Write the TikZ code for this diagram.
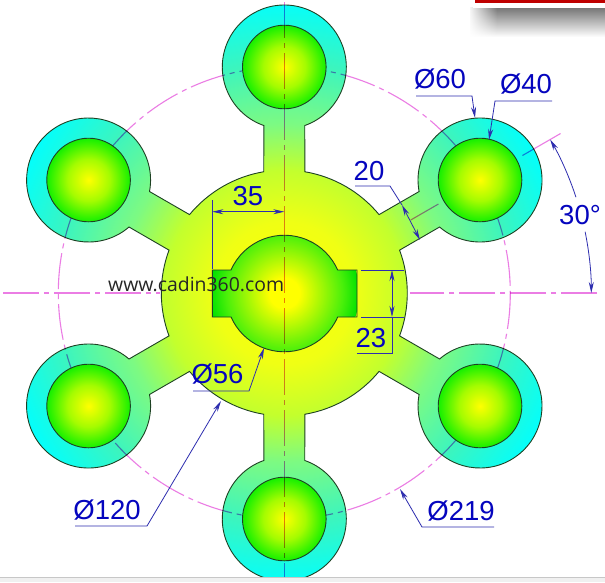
\documentclass[tikz,border=0pt]{standalone}
\usepackage{fontspec}
\setmainfont{Liberation Sans}
\newfontfamily\urlfont{Open Sans}
\usetikzlibrary{arrows.meta,fadings,calc}
\definecolor{yel}{RGB}{255,255,0}
\definecolor{bodyA}{RGB}{240,255,20}
\definecolor{bodyB}{RGB}{195,255,45}
\definecolor{bodyC}{RGB}{125,250,130}
\definecolor{bodyD}{RGB}{60,245,190}
\definecolor{bodyE}{RGB}{0,255,255}
\definecolor{diskA}{RGB}{165,252,0}
\definecolor{diskB}{RGB}{20,240,0}
\definecolor{keyA}{RGB}{75,240,10}
\definecolor{keyB}{RGB}{0,225,0}
\definecolor{outl}{RGB}{30,65,35}
\definecolor{dimcol}{RGB}{45,45,175}
\definecolor{txtcol}{RGB}{5,5,190}
\definecolor{cline}{RGB}{235,125,228}
% a path's bounding box maps to 25bp of the shading's radius
\pgfdeclareradialshading{bodyshade}{\pgfpoint{0bp}{0bp}}{color(0bp)=(yel);color(6bp)=(bodyA);color(10.35bp)=(bodyB);color(14.25bp)=(bodyC);color(19.5bp)=(bodyD);color(25bp)=(bodyE);color(50bp)=(bodyE)}
\pgfdeclareradialshading{diskshade}{\pgfpoint{0bp}{0bp}}{color(0bp)=(yel);color(12.5bp)=(diskA);color(25bp)=(diskB);color(50bp)=(diskB)}
\pgfdeclareradialshading{keyshade}{\pgfpoint{0bp}{0bp}}{color(0bp)=(yel);color(5bp)=(yel);color(19.35bp)=(keyA);color(25bp)=(keyB);color(50bp)=(keyB)}
\tikzset{
  outline/.style={draw=outl,line width=0.9pt},
  centerline/.style={cline,line width=1.1pt,dash pattern=on 36pt off 5pt on 5pt off 5pt},
  axisline/.style={cline,line width=1.5pt,dash pattern=on 36pt off 5pt on 5pt off 5pt},
  dimline/.style={dimcol,line width=0.8pt},
  dimtip/.style={-{Stealth[length=11pt,width=5pt]},dimcol,line width=0.8pt},
  dimtips/.style={{Stealth[length=11pt,width=5pt]}-{Stealth[length=11pt,width=5pt]},dimcol,line width=0.8pt},
  dimtext/.style={text=txtcol,font=\fontsize{27.5}{27.5}\selectfont,inner sep=0pt},
}
\begin{document}
\begin{tikzpicture}[x=1pt,y=1pt,yscale=-1]
\useasboundingbox (0,0) rectangle (605,582);
\fill[white] (0,0) rectangle (605,582);
\coordinate (c) at (284.3,293);
% window chrome
\shade[top color=black!55,bottom color=white] (470,7) rectangle (605,37);
\fill[white,path fading=east] (468,7) rectangle (497,38);
\fill[white] (473,0) rectangle (605,7.5);
\fill[red!75!black] (475,0) rectangle (605,2.6);
% body
\path[outline,path picture={\shade[shading=bodyshade] (c) circle (290);}]
  ([shift={(30-9.6:123)}]c)
  \foreach \t in {30,90,...,330}{
    -- ([shift={(\t:226)},shift={(\t+199.3:62)}]c)
    arc[start angle=\t+199.3,end angle=\t+520.7,radius=62]
    -- ([shift={(\t+9.6:123)}]c)
    arc[start angle=\t+9.6,end angle=\t+50.4,radius=123]
  } -- cycle;
% bolt circle and radial centre line, under the inner disks
\begin{scope}[blend mode=multiply]
  \draw[centerline] (c) circle (226);
  \draw[cline,line width=1.1pt] ([shift={(-30:146)}]c) -- ([shift={(-30:178)}]c);
  \draw[cline,line width=1.1pt] ([shift={(-30:275)}]c) -- ([shift={(-30:319)}]c);
\end{scope}
% inner disks
\foreach \t in {30,90,...,330}{
  \path[outline,shading=diskshade] ([shift={(\t:226)}]c) circle (41.8);
}
% central bore with keyway
\path[outline,path picture={\shade[shading=keyshade] (c) circle (75);}]
  (212.3,270) -- (231,270) arc[start angle=-156.2,end angle=-23.8,radius=58.3]
  -- (357,270) -- (357,317) -- (337.7,317)
  arc[start angle=23.8,end angle=156.2,radius=58.3]
  -- (212.3,317) -- cycle;
% centre lines
\coordinate (vtop) at (284.3,2);
\coordinate (vbot) at (284.3,577);
\coordinate (hl1) at (3,293);
\coordinate (hl2) at (160,293);
\coordinate (hr1) at (597,293);
\coordinate (hr2) at (410,293);
\begin{scope}[blend mode=multiply]
  \draw[axisline] (vtop) -- (vbot);
  \draw[centerline] (hl1) -- (hl2);
  \draw[centerline] (hr1) -- (hr2);
\end{scope}
% dimension 35
\coordinate (d35a) at (212.3,200);
\coordinate (d35b) at (212.3,269);
\coordinate (d35l) at (212.3,211.7);
\coordinate (d35r) at (284.3,211.7);
\draw[dimline] (d35a) -- (d35b);
\draw[dimtips] (d35l) -- (d35r);
\node[dimtext] (t35) at (248,196) {35};
% dimension 23
\coordinate (e1a) at (361,270); \coordinate (e1b) at (404,270);
\coordinate (e2a) at (361,317); \coordinate (e2b) at (404,317);
\coordinate (d23a) at (392,270); \coordinate (d23b) at (392,317);
\coordinate (d23c) at (392,353); \coordinate (d23d) at (357,353);
\draw[dimline] (e1a) -- (e1b);
\draw[dimline] (e2a) -- (e2b);
\draw[dimtips] (d23a) -- (d23b);
\draw[dimline] (d23b) -- (d23c) -- (d23d);
\node[dimtext] (t23) at (371,338) {23};
% leaders
\coordinate (l56a) at (193,391); \coordinate (l56b) at (249,391); \coordinate (l56c) at (264,348);
\draw[dimtip] (l56a) -- (l56b) -- (l56c);
\node[dimtext] (t56) at (217.5,374) {Ø56};
\coordinate (l120a) at (75,526); \coordinate (l120b) at (147,526); \coordinate (l120c) at (221,401);
\draw[dimtip] (l120a) -- (l120b) -- (l120c);
\node[dimtext] (t120) at (107,510) {Ø120};
\coordinate (l219a) at (494,527); \coordinate (l219b) at (422,527); \coordinate (l219c) at (400,489);
\draw[dimtip] (l219a) -- (l219b) -- (l219c);
\node[dimtext] (t219) at (461,511) {Ø219};
\coordinate (l60a) at (416,96); \coordinate (l60b) at (472,96); \coordinate (l60c) at (475,118);
\draw[dimtip] (l60a) -- (l60b) -- (l60c);
\node[dimtext] (t60) at (440,79) {Ø60};
\coordinate (l40a) at (552,101); \coordinate (l40b) at (495,101); \coordinate (l40c) at (489,140);
\draw[dimtip] (l40a) -- (l40b) -- (l40c);
\node[dimtext] (t40) at (526,84) {Ø40};
% dimension 20
\coordinate (l20a) at (355,186); \coordinate (l20b) at (390,186);
\coordinate (l20c) at (402,205); \coordinate (l20d) at (420,240);
\draw[dimline] (l20a) -- (l20b) -- (l20c);
\draw[dimtips] (l20c) -- (l20d);
\node[dimtext] (t20) at (369,171) {20};
% dimension 30 degrees
\draw[dimline,{Stealth[length=11pt,width=5pt]}-] ([shift={(-30:307)}]c) arc[start angle=-30,end angle=-18.2,radius=307];
\draw[dimline,-{Stealth[length=11pt,width=5pt]}] ([shift={(-11.5:307)}]c) arc[start angle=-11.5,end angle=0,radius=307];
\node[dimtext] (t30) at (580,215) {30°};
% watermark
\node[inner sep=0pt,anchor=base west,font=\urlfont\fontsize{19.4}{19.4}\selectfont,text=black!85] (wm) at (108,291) {www.cadin360.com};
% bottom strip
\fill[black!6] (0,577) rectangle (605,582);
\draw[black!22,line width=0.7pt] (0,577) -- (605,577);
\end{tikzpicture}
\end{document}
